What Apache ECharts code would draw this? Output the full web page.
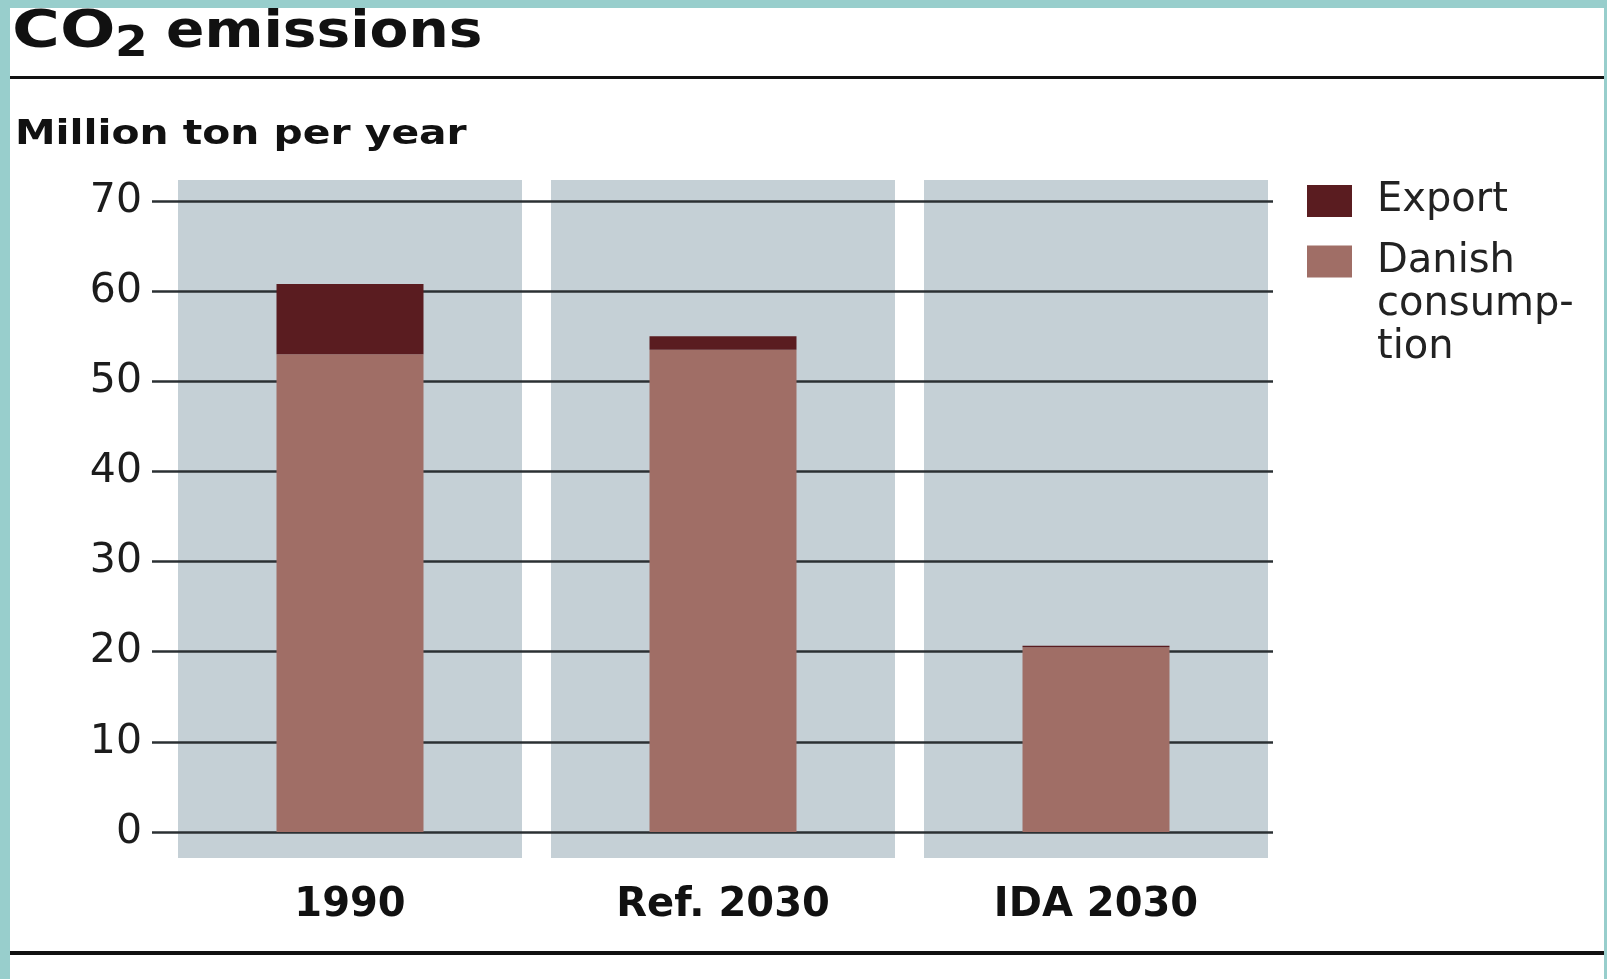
<!DOCTYPE html>
<html><head><meta charset="utf-8">
<script src="https://cdn.jsdelivr.net/npm/echarts@6/dist/echarts.min.js"></script>
<style>html,body{margin:0;padding:0;background:#fff}#c{width:1607px;height:979px}</style>
</head><body><div id="c"></div>
<script>
// ---- data ----
const categories = ['1990', 'Ref. 2030', 'IDA 2030'];
const danishConsumption = [53.0, 53.5, 20.5];
const exportValues = [7.8, 1.5, 0.15];
const seriesNames = ['Export', 'Danish consumption'];
const yMin = 0, yMax = 70, yStep = 10;

const FONT = "'DejaVu Sans'";
const chart = echarts.init(document.getElementById('c'), null, {renderer: 'canvas'});

const option = {
  animation: false,
  backgroundColor: '#ffffff',
  grid: [
    {left: 152, right: 334, top: 201, height: 631},        // gridlines + y labels
    {left: 163.5, right: 324.5, top: 201, height: 631},    // bars
    {left: 163.5, right: 324.5, top: 180, height: 678}     // grey panels
  ],
  xAxis: [
    {gridIndex: 0, type: 'category', data: categories, show: false},
    {gridIndex: 1, type: 'category', data: categories,
     axisLine: {show: false}, axisTick: {show: false},
     axisLabel: {margin: 54, fontFamily: FONT, fontWeight: 'bold', fontSize: 40, color: '#111'}},
    {gridIndex: 2, type: 'category', data: categories, show: false}
  ],
  yAxis: [
    {gridIndex: 0, type: 'value', min: yMin, max: yMax, interval: yStep, z: 3,
     axisLine: {show: false}, axisTick: {show: false},
     axisLabel: {margin: 10, fontFamily: FONT, fontSize: 41, color: '#1c1c1c'},
     splitLine: {lineStyle: {color: '#2b3033', width: 2.5}}},
    {gridIndex: 1, type: 'value', min: yMin, max: yMax, interval: yStep, show: false},
    {gridIndex: 2, type: 'value', min: 0, max: 1, show: false}
  ],
  legend: [
    {data: ['Export'], left: 1307, top: 181, orient: 'vertical', padding: 0,
     itemWidth: 45, itemHeight: 32, icon: 'rect', selectedMode: false,
     textStyle: {fontFamily: FONT, fontSize: 40, color: '#222', lineHeight: 32, padding: [0, 0, 0, 20]}},
    {data: ['Danish consumption'], left: 1307, top: 154, orient: 'vertical', padding: 0,
     itemWidth: 45, itemHeight: 32, icon: 'rect', selectedMode: false,
     formatter: () => '\n\nDanish\nconsump-\ntion',
     textStyle: {fontFamily: FONT, fontSize: 40, color: '#222', lineHeight: 43, padding: [0, 0, 0, 20]}}
  ],
  series: [
    {name: 'panel', type: 'bar', xAxisIndex: 2, yAxisIndex: 2, silent: true, z: 1,
     barWidth: 344, data: categories.map(() => 1), itemStyle: {color: '#c5d0d6'}},
    {name: seriesNames[1], type: 'bar', stack: 'total', xAxisIndex: 1, yAxisIndex: 1, z: 10,
     barWidth: 147, data: danishConsumption, itemStyle: {color: '#a06e66'}},
    {name: seriesNames[0], type: 'bar', stack: 'total', xAxisIndex: 1, yAxisIndex: 1, z: 10,
     barWidth: 147, data: exportValues, itemStyle: {color: '#5a1c20'}}
  ],
  graphic: [
    {type: 'rect', shape: {x: 0, y: 0, width: 10, height: 979}, style: {fill: '#98cecc'}, z: 100},
    {type: 'rect', shape: {x: 0, y: 0, width: 1607, height: 8}, style: {fill: '#98cecc'}, z: 100},
    {type: 'rect', shape: {x: 1604, y: 0, width: 3, height: 979}, style: {fill: '#98cecc'}, z: 100},
    {type: 'rect', shape: {x: 10, y: 76, width: 1594, height: 3}, style: {fill: '#111'}, z: 50},
    {type: 'rect', shape: {x: 10, y: 951, width: 1594, height: 4}, style: {fill: '#111'}, z: 50},
    {type: 'text', x: 12, y: 34, scaleX: 1.28,
     style: {text: 'CO', fontFamily: FONT, fontWeight: 'bold', fontSize: 51, fill: '#111', align: 'left', verticalAlign: 'middle'}},
    {type: 'text', x: 115, y: 45, scaleX: 1.12,
     style: {text: '2', fontFamily: FONT, fontWeight: 'bold', fontSize: 42, fill: '#111', align: 'left', verticalAlign: 'middle'}},
    {type: 'text', x: 166, y: 34, scaleX: 1.11,
     style: {text: 'emissions', fontFamily: FONT, fontWeight: 'bold', fontSize: 51, fill: '#111', align: 'left', verticalAlign: 'middle'}},
    {type: 'text', x: 15, y: 135, scaleX: 1.2,
     style: {text: 'Million ton per year', fontFamily: FONT, fontWeight: 'bold', fontSize: 34, fill: '#111', align: 'left', verticalAlign: 'middle'}}
  ]
};
chart.setOption(option);
</script></body></html>
